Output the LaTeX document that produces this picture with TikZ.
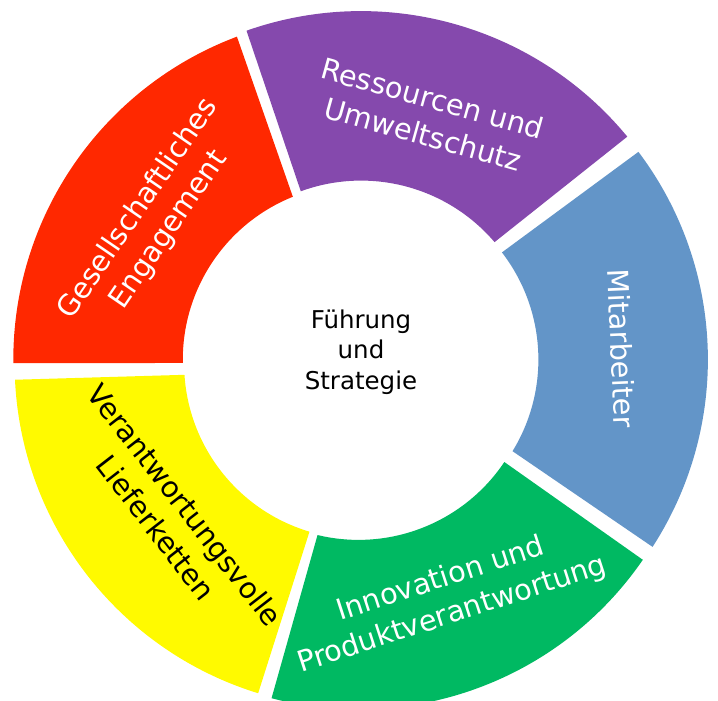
\documentclass[tikz,border=0pt]{standalone}
\usepackage{fontspec}
\setmainfont{DejaVu Sans}
\usetikzlibrary{calc}

\definecolor{segred}{RGB}{255,40,0}
\definecolor{segpurple}{RGB}{133,73,173}
\definecolor{segblue}{RGB}{99,149,200}
\definecolor{seggreen}{RGB}{0,185,98}
\definecolor{segyellow}{RGB}{255,250,0}

\begin{document}
\begin{tikzpicture}[x=1pt,y=1pt,
  ringtext/.style={align=center,font=\fontsize{28.8}{37}\selectfont}]
\useasboundingbox (0,0) rectangle (718,701);
% ring segments: centre x/y, outer arc, inner arc, colour
\foreach \cx/\cy/\oa/\ob/\ia/\ib/\col in {
  358.3/341.4/110.6/180.6/111.9/181.1/segred,
  361.1/344.9/39.5/109.4/40.5/110.1/segpurple,
  362.9/341.5/-32.9/37.0/-31.5/37.6/segblue,
  358.5/336.6/-104.6/-34.5/-103.5/-33.8/seggreen,
  359.6/337.5/182.7/252.9/183.7/253.4/segyellow} {
  \fill[\col] ($(\cx,\cy)+(\oa:345)$) arc[start angle=\oa, end angle=\ob, radius=345]
    -- ($(\cx,\cy)+(\ib:175.5)$) arc[start angle=\ib, end angle=\ia, radius=175.5] -- cycle;
}

\node (gesell) at ($(358.3,341.4)+(145.6:248)$) [ringtext,text=white,rotate=55.6] {Gesellschaftliches\\Engagement};
\node (ressourcen) at ($(361.1,344.9)+(74.4:249)$) [ringtext,text=white,rotate=-15.6] {Ressourcen und\\Umweltschutz};
\node (mitarbeiter) at ($(362.9,341.5)+(2.5:259)$) [ringtext,text=white,rotate=-87.5] {Mitarbeiter};
\node (innovation) at ($(358.5,336.6)+(-69.3:249)$) [ringtext,text=white,rotate=18] {Innovation und\\Produktverantwortung};
\node (liefer) at ($(359.6,337.5)+(219:243)$) [ringtext,text=black,rotate=-52.2] {Verantwortungsvolle\\Lieferketten};

\node (fuehrung) at (361,349) [align=center,font=\fontsize{24.5}{30.5}\selectfont] {Führung\\und\\Strategie};
\end{tikzpicture}
\end{document}
